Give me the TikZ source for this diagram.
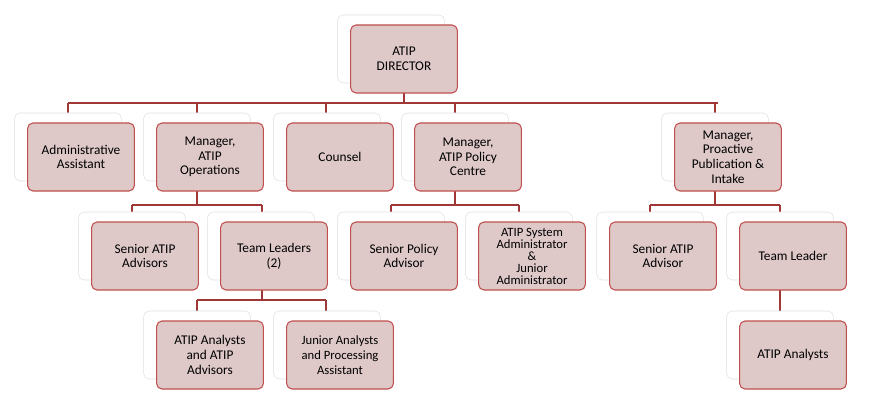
\documentclass[tikz,border=0pt]{standalone}
\usepackage{fontspec}
\setmainfont{Carlito}
\usetikzlibrary{shadows}
\definecolor{boxred}{RGB}{192,80,77}
\definecolor{boxfill}{RGB}{222,200,200}
\definecolor{linkred}{RGB}{160,55,55}
\tikzset{
	post/.style={draw=boxred, fill=boxfill, thick, rounded corners=4pt, align=center,
		minimum width=80pt, minimum height=51pt, font=\fontsize{10}{11}\selectfont,
		copy shadow={shadow xshift=-9.75pt, shadow yshift=7.5pt, fill=white, draw=black!12, thin}},
	link/.style={draw=linkred, line width=2.2pt}
}

\begin{document}
\begin{tikzpicture}[x=0.75pt, y=-0.75pt]
		\useasboundingbox (0,0) rectangle (873,417);

		% connectors first
		\coordinate (top) at (404,103);
		\coordinate (ops) at (197,205);
		\coordinate (pol) at (455,205);
		\coordinate (pro) at (715,205);
		\coordinate (tl) at (262,300);

		\draw[link] (404,93) -- (top);
		\draw[link] (68,103) -- (718,103);
		\foreach \x in {68,197,326,455,715} \draw[link] (\x,103) -- (\x,114);

		\draw[link] (197,191) -- (ops);
		\draw[link] (132,205) -- (262,205);
		\foreach \x in {132,262} \draw[link] (\x,205) -- (\x,212);

		\draw[link] (455,191) -- (pol);
		\draw[link] (391,205) -- (519,205);
		\foreach \x in {391,519} \draw[link] (\x,205) -- (\x,212);

		\draw[link] (715,191) -- (pro);
		\draw[link] (650,205) -- (780,205);
		\foreach \x in {650,780} \draw[link] (\x,205) -- (\x,212);

		\draw[link] (262,290) -- (tl);
		\draw[link] (197,300) -- (326,300);
		\foreach \x in {197,326} \draw[link] (\x,300) -- (\x,311);

		\draw[link] (780,290) -- (780,311);

		% boxes
		\node[post] (dir) at (404,59) {ATIP\\DIRECTOR};

		\node[post] (adm) at (81,157) {Administrative\\Assistant};
		\node[post] (mops) at (210,157) {Manager,\\ATIP\\Operations};
		\node[post] (cns) at (340,157) {Counsel};
		\node[post] (mpol) at (468,157) {Manager,\\ATIP Policy\\Centre};
		\node[post] (mpro) at (728,157) {Manager,\\Proactive\\Publication \&\\Intake};

		\node[post] (sadv) at (145,256) {Senior ATIP\\Advisors};
		\node[post] (tlead) at (274,256) {Team Leaders\\(2)};
		\node[post] (spol) at (404,256) {Senior Policy\\Advisor};
		\node[post, font=\fontsize{9.5}{9}\selectfont] (sys) at (532,256) {ATIP System\\Administrator\\\&\\Junior\\Administrator};
		\node[post] (sadv2) at (663,256) {Senior ATIP\\Advisor};
		\node[post] (tlead2) at (793,256) {Team Leader};

		\node[post] (ana) at (210,355) {ATIP Analysts\\and ATIP\\Advisors};
		\node[post, font=\fontsize{9.5}{11}\selectfont] (jun) at (340,355) {Junior Analysts\\and Processing\\Assistant};
		\node[post] (ana2) at (793,355) {ATIP Analysts};
	\end{tikzpicture}
\end{document}
